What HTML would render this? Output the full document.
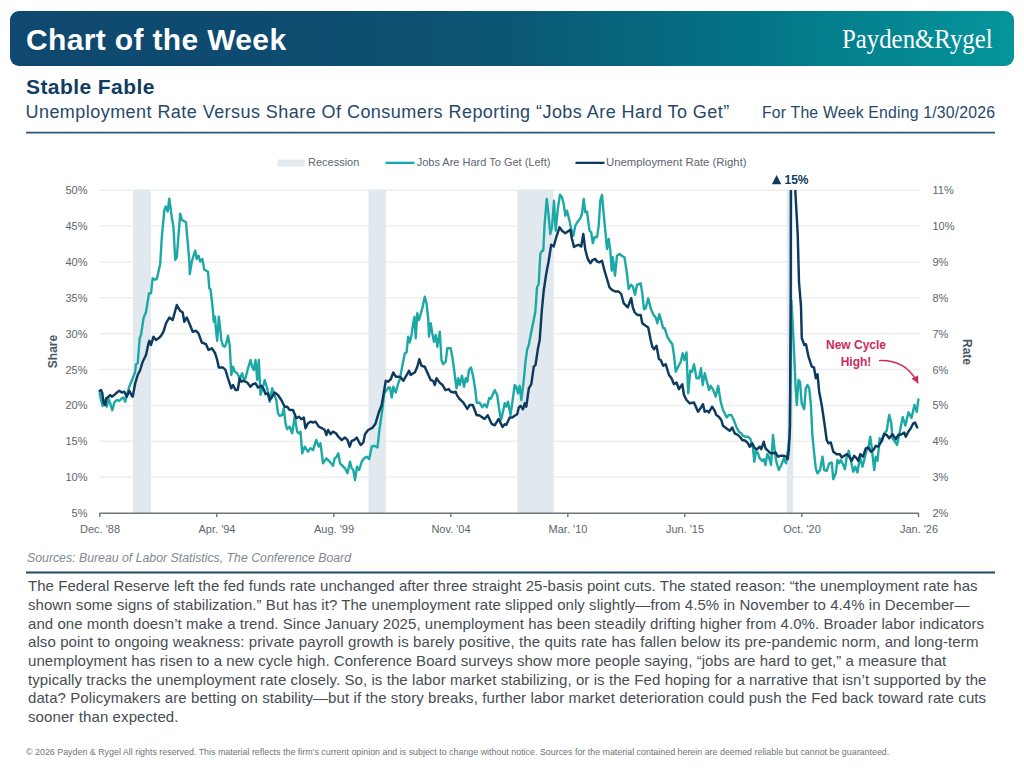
<!DOCTYPE html>
<html><head><meta charset="utf-8">
<style>
html,body{margin:0;padding:0;background:#fff;}
body{width:1024px;height:768px;position:relative;overflow:hidden;font-family:"Liberation Sans",sans-serif;}
.a{position:absolute;white-space:nowrap;}
#banner{left:10px;top:11px;width:1004px;height:55.2px;border-radius:9px;background:linear-gradient(90deg,#0f4870 0%,#0e4c70 30%,#0b5675 49%,#037487 74%,#05939a 98%,#05949a 100%);}
#cotw{left:26px;top:20px;font-weight:bold;font-size:30px;line-height:40px;color:#fff;letter-spacing:0.35px;}
#logo{left:842px;top:21px;font-family:"Liberation Serif",serif;font-size:28px;line-height:36px;color:#fff;letter-spacing:0px;transform-origin:0 0;transform:scaleX(0.886);}
#t1{left:26px;top:74.2px;font-weight:bold;font-size:21px;line-height:26px;color:#123b61;letter-spacing:0.42px;}
#t2{left:25.5px;top:100.4px;font-size:18px;line-height:24px;color:#27486a;letter-spacing:0.45px;}
#t3{left:762px;top:102.8px;font-size:15.8px;line-height:20px;color:#27486a;letter-spacing:0.19px;}
#src{left:27px;top:550px;font-style:italic;font-size:12.3px;line-height:16px;color:#82888d;}
#para{left:28px;top:577.1px;width:990px;font-size:15px;line-height:18.7px;color:#464d53;white-space:normal;}
#para div{white-space:nowrap;}
#foot{left:26px;top:746px;font-size:9.8px;line-height:12px;color:#6f7478;transform-origin:0 0;transform:scaleX(0.906);}
svg text{font-family:"Liberation Sans",sans-serif;}
</style></head><body>
<div id="banner" class="a"></div>
<div id="cotw" class="a">Chart of the Week</div>
<div id="logo" class="a">Payden&amp;Rygel</div>
<div id="t1" class="a">Stable Fable</div>
<div id="t2" class="a">Unemployment Rate Versus Share Of Consumers Reporting “Jobs Are Hard To Get”</div>
<div id="t3" class="a">For The Week Ending 1/30/2026</div>

<svg class="a" style="left:0;top:0" width="1024" height="768" viewBox="0 0 1024 768">
  <defs><clipPath id="clip"><rect x="90" y="190" width="840" height="330"/></clipPath></defs>
  <line x1="26" x2="995" y1="132.6" y2="132.6" stroke="#2c5573" stroke-width="1.8"/>
  <line x1="26" x2="995" y1="572.5" y2="572.5" stroke="#24485b" stroke-width="1.9"/>
  <!-- legend -->
  <rect x="277.5" y="159.5" width="27" height="7" fill="#e2e9ee"/>
  <text x="308" y="166" font-size="11" fill="#5d666e">Recession</text>
  <rect x="385.5" y="161.7" width="29" height="2.3" fill="#1ca9a6"/>
  <text x="416.7" y="166" font-size="11" fill="#5d666e">Jobs Are Hard To Get (Left)</text>
  <rect x="575.5" y="161.7" width="29" height="2.3" fill="#0e3a5f"/>
  <text x="606" y="166" font-size="11.35" fill="#5d666e">Unemployment Rate (Right)</text>
  <!-- gridlines -->
  <g stroke="#eceeee" stroke-width="1.4">
    <line x1="99" x2="920" y1="190.20" y2="190.20"/>
    <line x1="99" x2="920" y1="226.07" y2="226.07"/>
    <line x1="99" x2="920" y1="261.95" y2="261.95"/>
    <line x1="99" x2="920" y1="297.82" y2="297.82"/>
    <line x1="99" x2="920" y1="333.70" y2="333.70"/>
    <line x1="99" x2="920" y1="369.57" y2="369.57"/>
    <line x1="99" x2="920" y1="405.45" y2="405.45"/>
    <line x1="99" x2="920" y1="441.32" y2="441.32"/>
    <line x1="99" x2="920" y1="477.20" y2="477.20"/>
  </g>
  <!-- recession bars -->
  <g fill="#e2e9ee">
    <rect x="133" y="190" width="18" height="323"/>
    <rect x="368.5" y="190" width="17.5" height="323"/>
    <rect x="517.3" y="190" width="36.4" height="323"/>
    <rect x="786.8" y="190" width="6.4" height="323"/>
  </g>
  <!-- x axis -->
  <line x1="99.5" x2="919" y1="513.3" y2="513.3" stroke="#6c757c" stroke-width="1.6"/>
  <g stroke="#6c757c" stroke-width="1.4">
    <line x1="99.8" x2="99.8" y1="513" y2="517"/>
    <line x1="216.8" x2="216.8" y1="513" y2="517"/>
    <line x1="333.8" x2="333.8" y1="513" y2="517"/>
    <line x1="450.8" x2="450.8" y1="513" y2="517"/>
    <line x1="567.8" x2="567.8" y1="513" y2="517"/>
    <line x1="684.8" x2="684.8" y1="513" y2="517"/>
    <line x1="801.8" x2="801.8" y1="513" y2="517"/>
    <line x1="918.5" x2="918.5" y1="513" y2="517"/>
  </g>
  <g font-size="11" fill="#5d666e" text-anchor="middle">
    <text x="100" y="533">Dec. '88</text>
    <text x="217" y="533">Apr. '94</text>
    <text x="334" y="533">Aug. '99</text>
    <text x="451" y="533">Nov. '04</text>
    <text x="568" y="533">Mar. '10</text>
    <text x="685" y="533">Jun. '15</text>
    <text x="802" y="533">Oct. '20</text>
    <text x="919" y="533">Jan. '26</text>
  </g>
  <!-- left y labels -->
  <g font-size="11" fill="#5d666e" text-anchor="end">
    <text x="87.5" y="194.20">50%</text>
    <text x="87.5" y="230.07">45%</text>
    <text x="87.5" y="265.95">40%</text>
    <text x="87.5" y="301.82">35%</text>
    <text x="87.5" y="337.70">30%</text>
    <text x="87.5" y="373.57">25%</text>
    <text x="87.5" y="409.45">20%</text>
    <text x="87.5" y="445.32">15%</text>
    <text x="87.5" y="481.20">10%</text>
    <text x="87.5" y="517.08">5%</text>
  </g>
  <g font-size="11" fill="#5d666e">
    <text x="932.5" y="194.20">11%</text>
    <text x="932.5" y="230.07">10%</text>
    <text x="932.5" y="265.95">9%</text>
    <text x="932.5" y="301.82">8%</text>
    <text x="932.5" y="337.70">7%</text>
    <text x="932.5" y="373.57">6%</text>
    <text x="932.5" y="409.45">5%</text>
    <text x="932.5" y="445.32">4%</text>
    <text x="932.5" y="481.20">3%</text>
    <text x="932.5" y="517.08">2%</text>
  </g>
  <text transform="translate(57,351.5) rotate(-90)" font-size="12" font-weight="bold" fill="#4b5864" text-anchor="middle">Share</text>
  <text transform="translate(962.5,352) rotate(90)" font-size="12" font-weight="bold" fill="#4b5864" text-anchor="middle">Rate</text>
  <!-- annotations -->
  <path d="M771.9 184.3 L776.6 174.9 L781.3 184.3 Z" fill="#0f3a62"/>
  <text x="784.5" y="184.3" font-size="12" font-weight="bold" fill="#0f3a62">15%</text>
  <g font-size="12" font-weight="bold" fill="#cc2a5c" text-anchor="middle">
    <text x="856" y="349">New Cycle</text>
    <text x="856" y="366">High!</text>
  </g>
  <path d="M879 360.6 C 895 360, 908 366, 916 380" fill="none" stroke="#cc2a5c" stroke-width="1.45"/>
  <path d="M918.5 384 L911.5 378.5 L918 375.5 Z" fill="#cc2a5c"/>
  <!-- series -->
  <g id="series" fill="none" stroke-linejoin="round" stroke-linecap="round" clip-path="url(#clip)"><polyline stroke="#1ca9a6" stroke-width="2.4" points="99.7,393.3 101.0,400.0 102.7,405.8 105.2,400.0 106.8,406.7 108.5,398.3 110.2,403.3 112.3,410.3 114.3,402.5 116.8,400.0 119.3,400.8 121.8,398.3 123.5,397.5 125.2,401.7 126.8,395.0 129.3,386.7 132.7,378.3 135.2,371.7 136.0,364.2 137.7,363.3 139.7,338.3 141.0,335.0 143.5,318.3 146.0,312.0 149.0,293.2 151.0,293.2 152.7,278.2 155.2,279.8 156.8,279.0 160.2,264.0 161.8,237.3 164.3,210.7 165.7,206.5 167.7,211.5 169.3,198.7 171.8,217.3 173.5,227.3 175.2,259.8 176.8,257.3 180.2,213.7 181.8,219.8 186.0,222.3 189.3,260.7 189.8,274.0 191.8,261.5 195.2,250.7 196.8,259.0 198.5,255.7 200.2,261.5 202.3,259.0 204.3,269.8 206.3,270.7 208.0,271.7 209.3,288.3 210.5,289.2 212.7,308.3 213.8,321.7 215.0,316.7 216.0,330.0 217.2,340.8 218.8,316.7 220.0,326.7 221.3,340.0 223.0,345.8 224.7,346.7 226.3,343.3 228.0,335.8 229.7,345.0 230.5,360.0 231.3,375.0 233.0,366.7 234.7,371.7 237.2,373.3 239.7,378.3 242.2,373.3 243.8,380.0 245.5,378.3 248.0,368.3 250.5,360.0 252.2,366.7 253.8,370.0 255.5,360.0 257.2,380.0 258.8,360.0 260.5,395.0 263.0,386.7 264.7,380.0 267.2,388.3 269.7,401.7 272.2,388.3 273.8,393.3 276.3,400.0 278.0,413.3 279.7,415.8 282.2,415.0 283.8,408.3 285.5,423.3 287.2,429.2 289.7,426.7 292.2,433.3 294.7,416.7 297.2,431.7 298.8,433.3 300.5,431.7 302.2,453.3 304.7,446.7 308.0,451.7 310.5,448.3 313.0,450.0 316.3,440.0 318.8,446.7 320.5,443.3 323.0,463.3 326.3,458.3 329.7,461.7 333.0,465.8 334.7,458.3 336.0,457.5 338.3,453.3 340.0,463.3 342.5,465.8 345.0,468.3 347.5,473.3 350.0,461.7 351.7,468.3 353.3,470.0 355.0,480.0 357.0,466.7 359.2,470.0 361.7,461.7 364.2,458.3 366.7,456.7 369.2,459.2 371.7,446.7 374.2,445.8 377.5,447.5 379.2,431.7 380.8,420.0 382.5,408.3 384.2,393.3 386.7,390.0 388.3,387.5 390.0,387.5 391.7,397.5 393.3,386.7 395.8,392.5 398.3,383.3 400.0,378.3 402.5,365.0 404.8,353.3 406.5,352.5 408.2,336.7 409.8,342.5 411.5,335.0 413.2,323.3 414.5,316.7 415.7,338.3 417.3,313.3 419.0,320.0 422.3,308.3 424.8,296.7 426.5,303.3 428.2,318.3 429.0,336.7 430.7,323.3 432.3,333.3 434.0,341.7 435.7,335.0 437.3,346.7 439.8,331.7 441.5,360.0 443.2,364.2 445.7,361.7 447.3,348.3 450.7,348.3 452.3,356.7 454.8,375.0 456.5,388.3 458.2,378.3 459.8,385.0 462.0,375.8 464.0,386.7 465.7,378.3 467.3,381.7 469.0,370.0 471.0,367.5 473.2,376.7 475.2,389.4 476.7,402.7 479.8,402.7 482.2,407.3 484.5,404.2 486.9,407.3 489.2,398.0 490.8,398.8 494.7,390.2 497.2,395.0 498.8,406.7 501.0,420.0 503.0,411.7 504.7,403.3 506.3,406.7 508.0,401.7 510.5,415.0 512.2,403.3 514.7,385.0 516.3,386.7 518.0,393.3 519.7,385.8 521.3,400.0 523.8,380.0 525.5,361.7 527.2,349.2 528.8,345.0 529.7,340.0 535.3,312.0 537.0,287.3 538.7,284.0 540.3,254.0 542.0,250.7 543.3,250.7 544.5,225.7 546.7,199.0 548.3,212.3 550.3,234.0 552.0,227.3 554.0,200.7 555.7,230.7 557.8,209.0 560.0,194.8 562.0,197.3 563.7,204.0 565.3,215.7 567.0,210.7 569.5,220.7 571.2,229.0 573.3,235.7 575.3,225.7 577.8,221.5 580.3,218.2 582.0,214.0 583.7,199.0 585.3,212.3 587.0,211.5 589.5,230.7 591.2,232.3 592.8,243.2 594.5,237.3 597.0,237.3 598.7,225.7 600.3,200.7 602.0,194.8 603.7,214.0 605.3,230.7 607.0,249.0 608.7,239.0 610.3,250.7 611.7,270.7 612.8,257.3 615.0,275.7 617.0,255.7 619.5,254.0 622.8,256.5 624.5,257.3 627.0,274.0 628.7,289.0 631.2,284.8 632.8,286.5 635.0,294.8 637.0,284.8 640.7,283.3 642.3,293.3 644.0,309.2 645.7,308.3 648.2,298.3 650.7,308.3 653.2,314.2 655.7,317.5 657.3,323.3 659.3,314.2 661.5,321.7 663.2,328.3 664.8,328.3 667.3,336.7 669.8,340.8 672.3,344.2 674.0,355.0 675.7,371.7 678.2,366.7 680.7,361.7 682.7,353.3 684.3,360.0 686.5,352.5 688.2,393.3 690.3,370.8 692.0,371.7 694.0,364.2 696.5,378.3 699.0,378.3 701.0,368.3 702.7,385.0 704.8,373.3 707.3,383.3 709.0,390.0 710.7,385.8 713.2,390.0 715.7,396.7 718.2,385.8 720.7,401.7 723.0,410.0 724.7,413.3 726.7,417.5 728.8,415.0 731.3,415.0 733.8,420.0 736.3,426.7 738.8,431.7 741.3,433.3 743.0,435.8 745.5,436.7 748.0,436.7 750.5,439.2 753.0,448.3 754.3,461.7 756.0,450.8 758.0,453.3 759.7,458.3 762.2,460.8 763.8,459.2 765.5,465.0 767.2,454.2 768.8,456.7 771.0,465.0 773.0,435.0 774.7,450.0 776.3,461.7 778.8,470.0 781.3,465.0 783.8,458.3 786.0,463.3 788.0,450.0 789.7,435.0 791.3,300.0 792.7,323.3 794.3,356.7 795.7,390.0 796.8,405.0 798.5,380.0 800.0,381.7 801.7,403.3 804.2,409.2 805.8,388.3 807.5,385.0 809.2,388.3 810.8,403.3 812.5,436.7 814.2,453.3 815.8,468.3 817.5,473.3 820.0,470.0 822.5,456.7 824.2,470.0 826.7,470.8 829.2,463.3 831.7,462.5 833.3,479.2 835.8,473.3 837.5,460.0 839.2,463.3 840.8,460.0 843.3,465.0 845.0,469.2 846.7,456.7 848.7,450.8 850.8,460.0 853.3,471.7 855.3,466.7 857.5,472.5 860.0,456.7 862.5,466.7 864.2,460.0 866.7,450.0 868.3,448.3 870.3,436.7 872.0,450.0 874.2,470.0 875.8,456.7 877.5,460.8 879.7,438.3 881.7,441.7 884.2,433.3 886.7,430.8 889.2,415.0 891.3,423.3 892.5,438.3 895.0,441.7 897.0,445.0 899.2,435.0 900.8,426.7 902.7,417.0 905.4,425.6 908.5,412.3 911.6,417.8 914.4,404.9 916.7,412.0 918.4,399.5"/><polyline stroke="#0e3a5f" stroke-width="2.45" points="99.7,390.8 101.0,390.0 102.3,393.3 103.5,402.5 105.2,405.0 106.3,398.3 108.5,396.7 110.2,395.0 111.8,396.7 114.3,395.0 116.0,393.3 119.3,390.8 121.8,392.5 124.3,391.7 126.8,396.7 129.3,390.8 131.8,395.8 132.7,396.7 135.2,383.3 137.7,375.0 140.2,370.0 142.7,361.7 146.0,355.0 148.5,343.3 149.3,340.8 151.0,345.0 153.5,336.7 156.0,340.0 158.5,338.3 161.0,335.8 163.5,331.7 166.0,323.3 169.3,317.5 172.7,320.0 176.8,305.0 180.2,310.8 182.7,312.5 184.3,321.7 186.8,317.5 189.3,323.3 192.7,331.7 196.0,330.8 198.5,333.3 201.8,342.5 206.0,344.2 208.5,350.0 211.8,348.3 215.2,353.3 217.2,360.0 218.8,367.5 223.0,367.5 225.5,370.0 228.0,378.3 231.3,388.3 233.0,385.0 235.5,390.0 237.7,390.0 239.7,378.3 241.3,381.7 243.8,380.8 247.2,382.5 250.5,386.7 253.0,384.2 255.5,383.3 258.0,387.5 261.3,385.8 263.8,389.2 265.5,394.2 268.0,393.3 269.7,400.0 272.2,396.7 274.7,392.5 278.0,395.0 281.3,400.0 284.7,406.7 287.2,406.7 289.7,410.0 293.0,410.0 296.3,418.3 298.8,416.7 301.3,419.2 303.8,417.5 305.5,428.3 308.0,423.3 310.5,421.7 313.0,422.5 315.5,421.7 318.8,426.7 322.2,428.3 324.7,430.0 326.3,435.0 328.0,430.0 330.5,434.2 333.0,431.7 336.0,433.3 338.3,436.7 341.7,440.0 345.0,437.5 347.5,440.0 349.7,446.7 351.7,440.8 354.2,440.0 356.7,437.5 359.2,442.5 360.8,445.0 363.3,442.5 365.0,434.2 368.1,430.0 372.3,427.9 375.4,423.8 378.5,413.3 381.7,405.0 383.8,392.5 385.8,380.8 388.3,381.7 390.8,379.2 393.3,372.5 395.8,376.7 398.3,376.7 400.8,377.5 403.3,380.8 409.0,370.8 410.7,375.0 413.2,373.3 414.8,372.5 417.3,366.7 419.3,359.2 421.5,365.8 424.8,366.7 427.3,372.5 430.7,380.0 433.2,380.8 434.8,385.0 436.5,378.3 440.0,383.1 442.3,384.7 445.5,390.2 448.6,389.1 450.9,391.7 454.1,392.5 455.6,391.7 457.2,395.6 459.5,398.8 463.4,402.7 467.3,408.9 469.7,405.0 472.8,405.0 476.7,415.2 479.1,415.2 481.4,416.7 484.5,419.0 487.7,415.2 491.6,423.8 494.7,425.3 498.6,419.0 502.5,426.9 504.7,424.2 506.3,425.0 509.7,417.5 512.2,417.5 514.7,415.8 517.2,414.2 518.8,407.5 520.5,405.8 523.0,409.2 524.7,403.3 526.3,406.7 528.8,388.3 531.3,384.2 533.8,366.7 535.5,365.0 538.0,348.3 539.7,340.0 541.7,312.0 543.7,290.7 546.2,274.0 548.7,260.7 551.2,244.8 553.7,246.5 556.2,237.3 559.5,227.3 562.0,230.7 565.3,233.2 567.8,231.5 570.3,229.8 572.0,239.0 574.0,247.0 576.2,245.7 578.7,244.8 581.2,246.5 583.3,234.0 585.3,249.8 587.8,259.0 590.3,263.2 592.8,259.8 595.3,259.0 597.0,261.5 599.5,262.3 602.0,260.7 604.5,270.7 607.0,279.0 609.5,287.3 612.0,289.8 615.3,291.5 618.7,291.5 621.2,294.0 623.7,303.2 625.3,304.8 627.8,307.3 631.2,298.2 632.8,307.3 634.5,312.0 637.3,315.0 640.7,315.0 642.3,323.3 645.7,325.8 648.2,327.5 650.7,340.0 652.3,346.7 654.0,349.2 656.5,345.8 659.0,359.2 660.7,360.0 663.2,365.8 665.7,364.2 669.0,375.0 671.5,378.3 674.0,384.2 676.5,382.5 679.0,389.2 682.3,384.2 684.0,395.0 686.5,400.0 689.8,403.3 694.0,402.5 698.0,411.7 700.5,408.3 703.0,404.2 704.7,411.7 707.2,410.8 708.8,412.5 712.2,406.7 714.7,410.8 716.3,415.0 718.8,416.7 721.3,420.0 723.0,425.8 726.3,428.3 729.7,430.8 732.2,427.5 734.7,433.3 738.0,435.0 740.5,437.5 742.2,440.0 745.5,440.8 748.0,443.3 749.7,446.7 752.2,443.3 754.7,448.3 757.2,449.2 759.7,446.7 761.3,449.2 763.8,441.7 765.5,448.3 768.0,450.8 770.5,453.3 773.0,453.3 775.5,452.5 778.0,456.7 780.5,455.8 783.8,455.8 786.3,456.7 787.7,459.2 788.8,450.0 790.0,426.7 790.7,300.0 790.9,170.0 792.9,90.0 794.1,170.0 795.3,190.7 797.7,234.0 799.0,282.0 801.0,306.7 801.8,338.3 804.3,345.0 806.0,344.2 808.5,356.7 811.8,366.7 814.0,367.5 815.8,378.3 817.5,374.2 819.2,391.7 821.7,405.0 824.2,421.7 826.7,440.0 828.3,443.3 830.8,442.5 833.3,451.7 836.7,454.2 840.0,454.2 841.7,457.5 844.2,455.8 846.7,454.2 849.2,456.7 851.7,460.8 854.2,455.8 856.7,458.3 858.3,460.8 860.3,454.2 863.0,456.7 865.8,448.3 868.3,447.5 870.8,451.7 873.3,450.0 875.8,445.8 878.3,446.7 881.7,440.8 884.2,434.2 886.7,435.0 889.2,438.3 892.5,434.2 895.8,439.2 898.3,435.0 901.7,434.2 904.2,432.5 905.8,436.7 908.3,431.7 910.8,428.3 913.3,423.3 915.0,422.5 917.2,427.5"/></g>
</svg>

<div id="src" class="a">Sources: Bureau of Labor Statistics, The Conference Board</div>
<div id="para" class="a">
<div style="letter-spacing:0.043px">The Federal Reserve left the fed funds rate unchanged after three straight 25-basis point cuts. The stated reason: “the unemployment rate has</div>
<div style="letter-spacing:0.053px">shown some signs of stabilization.” But has it? The unemployment rate slipped only slightly—from 4.5% in November to 4.4% in December—</div>
<div style="letter-spacing:0.058px">and one month doesn’t make a trend. Since January 2025, unemployment has been steadily drifting higher from 4.0%. Broader labor indicators</div>
<div style="letter-spacing:0.099px">also point to ongoing weakness: private payroll growth is barely positive, the quits rate has fallen below its pre-pandemic norm, and long-term</div>
<div style="letter-spacing:0.053px">unemployment has risen to a new cycle high. Conference Board surveys show more people saying, “jobs are hard to get,” a measure that</div>
<div style="letter-spacing:0.084px">typically tracks the unemployment rate closely. So, is the labor market stabilizing, or is the Fed hoping for a narrative that isn’t supported by the</div>
<div style="letter-spacing:0.094px">data? Policymakers are betting on stability—but if the story breaks, further labor market deterioration could push the Fed back toward rate cuts</div>
<div style="letter-spacing:0.100px">sooner than expected.</div>
</div>
<div id="foot" class="a">© 2026 Payden &amp; Rygel All rights reserved. This material reflects the firm’s current opinion and is subject to change without notice. Sources for the material contained herein are deemed reliable but cannot be guaranteed.</div>
</body></html>
